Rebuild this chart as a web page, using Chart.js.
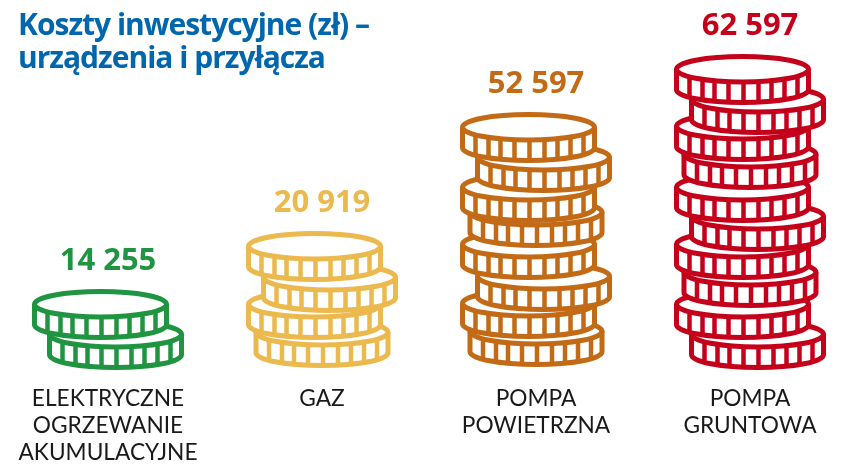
<!DOCTYPE html>
<html lang="pl">
<head>
<meta charset="utf-8">
<style>html,body{margin:0;padding:0;background:#fff}canvas{display:block}</style>
<script src="https://cdn.jsdelivr.net/npm/chart.js@4"></script>
</head>
<body>
<canvas id="c" width="850" height="476"></canvas>
<script>
const titleLines = ["Koszty inwestycyjne (zł) –", "urządzenia i przyłącza"];
const categories = [["ELEKTRYCZNE", "OGRZEWANIE", "AKUMULACYJNE"], "GAZ", ["POMPA", "POWIETRZNA"], ["POMPA", "GRUNTOWA"]];
const costs = [14255, 20919, 52597, 62597];
// height of each coin layer in the four stacks, bottom coin first
const layersElectric = [0, 30];
const layersGas = [2, 28, 27, 31];
const layersAirPump = [3, 28, 27, 32, 32, 25, 30, 30];
const layersGroundPump = [0, 30, 32, 28, 28, 29, 33, 28, 27, 30];
// sideways slip of each coin, bottom coin first (-1 left, 0 centre, 1 right)
const slipElectric = [1, -1];
const slipGas = [0, -1, 1, -1];
const slipAirPump = [0, -1, 1, -1, 0, -1, 1, -1];
const slipGroundPump = [1, -1, 0, -1, 1, -1, 0, -1, 1, -1];
const colors = ["#1f9441", "#ebb94d", "#c26a15", "#c4001a"];

const stacks = [layersElectric, layersGas, layersAirPump, layersGroundPump];
const slips = [slipElectric, slipGas, slipAirPump, slipGroundPump];
const maxCoins = Math.max(...stacks.map(s => s.length));
const datasets = [];
for (let k = 0; k < maxCoins; k++) {
  datasets.push({
    label: "moneta " + (k + 1),
    data: stacks.map(s => (k < s.length ? s[k] : null)),
    backgroundColor: "transparent",
    borderWidth: 0
  });
}

const RX = 66, RY = 12.75, RIM = 20.5, LW = 5, SLIP = 7.5;
const DIVIDERS = [-53, -40, -28, -14, 1, 16, 29, 42, 55];

function drawCoin(ctx, cx, bottom, color) {
  const yLow = bottom - LW / 2 - RY;
  const yUp = yLow - RIM;
  ctx.save();
  ctx.lineWidth = LW;
  ctx.lineJoin = "round";
  ctx.strokeStyle = color;
  ctx.fillStyle = "#fff";
  ctx.beginPath();
  ctx.ellipse(cx, yUp, RX, RY, 0, Math.PI, 2 * Math.PI);
  ctx.lineTo(cx + RX, yLow);
  ctx.ellipse(cx, yLow, RX, RY, 0, 0, Math.PI);
  ctx.closePath();
  ctx.fill();
  ctx.stroke();
  ctx.beginPath();
  ctx.ellipse(cx, yUp, RX, RY, 0, 0, Math.PI);
  ctx.stroke();
  ctx.lineWidth = 4.5;
  for (const d of DIVIDERS) {
    const h = RY * Math.sqrt(1 - (d * d) / (RX * RX));
    ctx.beginPath();
    ctx.moveTo(cx + d, yUp + h);
    ctx.lineTo(cx + d, yLow + h);
    ctx.stroke();
  }
  ctx.restore();
}

const coinPlugin = {
  id: "coins",
  afterLayout(chart) {
    const t = chart.titleBlock;
    if (t && !t._tight) {
      const draw = t.draw;
      t._tight = true;
      t.draw = function () {
        chart.ctx.letterSpacing = "-1px";
        draw.call(t);
        chart.ctx.letterSpacing = "0px";
      };
    }
  },
  afterDatasetsDraw(chart) {
    const ctx = chart.ctx;
    categories.forEach((_, i) => {
      let top = null, xc = null;
      chart.data.datasets.forEach((ds, k) => {
        const el = chart.getDatasetMeta(k).data[i];
        if (ds.data[i] === null || !el) return;
        drawCoin(ctx, el.x + slips[i][k] * SLIP, el.y, colors[i]);
        top = el.y - 50;
        xc = el.x;
      });
      ctx.save();
      ctx.fillStyle = colors[i];
      ctx.font = "bold 31px 'Open Sans'";
      ctx.textAlign = "center";
      ctx.textBaseline = "middle";
      ctx.fillText(String(costs[i]).replace(/\B(?=(\d{3})+$)/g, " "), xc, top - 29);
      ctx.restore();
    });
  }
};

new Chart(document.getElementById("c"), {
  type: "bar",
  data: { labels: categories, datasets },
  plugins: [coinPlugin],
  options: {
    responsive: false,
    animation: false,
    layout: { padding: { left: 18 } },
    plugins: {
      legend: { display: false },
      tooltip: { enabled: false },
      title: {
        display: true,
        text: titleLines,
        align: "start",
        color: "#0066ad",
        font: { family: "'Open Sans'", size: 30, weight: "bold", lineHeight: 1.1 },
        padding: { top: 10, bottom: 0 }
      }
    },
    scales: {
      x: {
        stacked: true,
        offset: false,
        grid: { display: false, drawTicks: false },
        border: { display: false },
        ticks: {
          autoSkip: false,
          maxRotation: 0,
          minRotation: 0,
          padding: 15,
          color: "#1a1a1a",
          font: { family: "Lato", size: 22.7, lineHeight: 1.19 }
        },
        afterFit(s) { s.height = 106; }
      },
      y: {
        stacked: true,
        min: 0,
        max: 294,
        grid: { display: false },
        border: { display: false },
        ticks: { display: false },
        afterFit(s) { s.width = 90; }
      },
      y1: {
        position: "right",
        grid: { display: false },
        border: { display: false },
        ticks: { display: false },
        afterFit(s) { s.width = 100; }
      }
    }
  }
});
</script>
</body>
</html>
